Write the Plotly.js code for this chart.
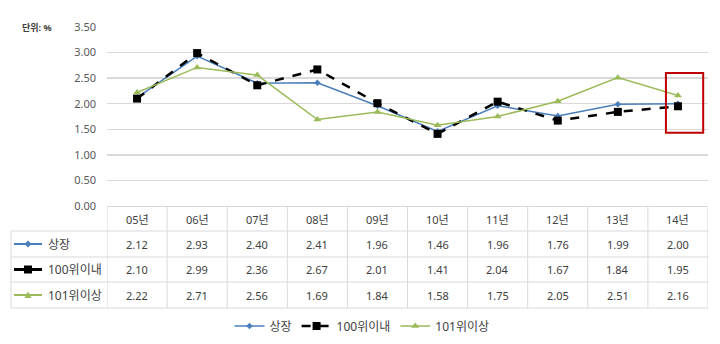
<!DOCTYPE html>
<html><head><meta charset="utf-8">
<script src="https://cdn.plot.ly/plotly-3.0.1.min.js"></script>
<style>html,body{margin:0;padding:0;background:#fff;}#chart{width:720px;height:344px;}</style>
</head><body><div id="chart"></div>
<script>
const categories = ["05년","06년","07년","08년","09년","10년","11년","12년","13년","14년"];
const seriesNames = ["상장","100위이내","101위이상"];
const listed = [2.12,2.93,2.40,2.41,1.96,1.46,1.96,1.76,1.99,2.00];
const top100 = [2.10,2.99,2.36,2.67,2.01,1.41,2.04,1.67,1.84,1.95];
const over101 = [2.22,2.71,2.56,1.69,1.84,1.58,1.75,2.05,2.51,2.16];
const yTicks = [0,0.5,1,1.5,2,2.5,3,3.5];

const W=720,H=344,L=107,R=708,T=27,B=206;
const px = x => (x-L)/(R-L);
const py = y => (B-y)/(B-T);
const FONT = "Noto Sans, Noto Sans CJK KR, sans-serif";
const TXT = "#404040";
const GRID = "#d9d9d9";
const idx = categories.map((c,i)=>i);

const styles = [
  {color:"#4a7ebb", width:1.5, dash:"solid", symbol:"diamond", size:5},
  {color:"#000000", width:2.5, dash:"dash", symbol:"square", size:8},
  {color:"#9bbb59", width:1.5, dash:"solid", symbol:"triangle-up", size:7}
];
const values = [listed, top100, over101];

const traces = values.map((v,k)=>({
  x: idx, y: v, name: seriesNames[k], type:"scatter", mode:"lines+markers",
  line:{color:styles[k].color,width:styles[k].width,dash:styles[k].dash},
  marker:{symbol:styles[k].symbol,size:styles[k].size,color:styles[k].color},
  cliponaxis:false
}));

const shapes = [];
const annotations = [];
const rowLines = [231,257,282,308];
rowLines.forEach(y=>shapes.push({type:"line",xref:"paper",yref:"paper",x0:px(11),x1:1,y0:py(y),y1:py(y),line:{color:GRID,width:1}}));
for(let i=0;i<=categories.length;i++){
  shapes.push({type:"line",xref:"x",yref:"paper",x0:i-0.5,x1:i-0.5,y0:0,y1:py(308),line:{color:GRID,width:1}});
}
shapes.push({type:"line",xref:"paper",yref:"paper",x0:px(11),x1:px(11),y0:py(231),y1:py(308),line:{color:GRID,width:1}});
categories.forEach((c,i)=>annotations.push({x:i,y:py(219),xref:"x",yref:"paper",xanchor:"center",yanchor:"middle",text:c,showarrow:false,font:{family:FONT,size:11,color:TXT}}));
const rowCenters=[244,269.5,295];
const markerPaths = [
  "M0,3.5 L3.5,0 L0,-3.5 L-3.5,0 Z",
  "M-4,-4 L4,-4 L4,4 L-4,4 Z",
  "M-3.5,-3 L3.5,-3 L0,3.5 Z"
];
values.forEach((v,k)=>{
  v.forEach((val,i)=>annotations.push({x:i,y:py(rowCenters[k]),xref:"x",yref:"paper",xanchor:"center",yanchor:"middle",text:val.toFixed(2),showarrow:false,font:{family:FONT,size:11,color:TXT}}));
  annotations.push({x:px(46),y:py(rowCenters[k]),xref:"paper",yref:"paper",xanchor:"left",yanchor:"middle",text:seriesNames[k],showarrow:false,font:{family:FONT,size:12,color:TXT}});
  shapes.push({type:"line",xref:"paper",yref:"paper",x0:px(14),x1:px(42),y0:py(rowCenters[k]),y1:py(rowCenters[k]),line:{color:styles[k].color,width:styles[k].width+0.5}});
  shapes.push({type:"path",xref:"paper",yref:"paper",xsizemode:"pixel",ysizemode:"pixel",xanchor:px(28),yanchor:py(rowCenters[k]),path:markerPaths[k],fillcolor:styles[k].color,line:{width:0}});
});
annotations.push({x:px(20),y:py(27),xref:"paper",yref:"paper",xanchor:"left",yanchor:"middle",text:"<b>단위: %</b>",showarrow:false,font:{family:FONT,size:9,color:TXT}});
shapes.push({type:"rect",xref:"x",yref:"y",x0:8.8,x1:9.42,y0:1.43,y1:2.6,line:{color:"#c00000",width:2}});

const layout = {
  width:W,height:H,margin:{l:L,r:W-R,t:T,b:H-B,autoexpand:false},
  paper_bgcolor:"#fff",plot_bgcolor:"#fff",
  font:{family:FONT,color:TXT},
  showlegend:true,
  legend:{orientation:"h",x:px(362),xanchor:"center",y:py(326),yanchor:"middle",font:{family:FONT,size:12,color:TXT}},
  xaxis:{range:[-0.5,9.5],showticklabels:false,showgrid:false,zeroline:false,showline:false,fixedrange:true},
  yaxis:{range:[0,3.5],tickvals:yTicks,tickformat:".2f",showgrid:true,gridcolor:GRID,gridwidth:1.5,zeroline:true,zerolinecolor:GRID,zerolinewidth:1,showline:false,ticks:"",ticklabelstandoff:10,tickfont:{family:FONT,size:11,color:"#595959"}},
  shapes:shapes,annotations:annotations
};
Plotly.newPlot("chart",traces,layout,{staticPlot:true});
</script></body></html>
